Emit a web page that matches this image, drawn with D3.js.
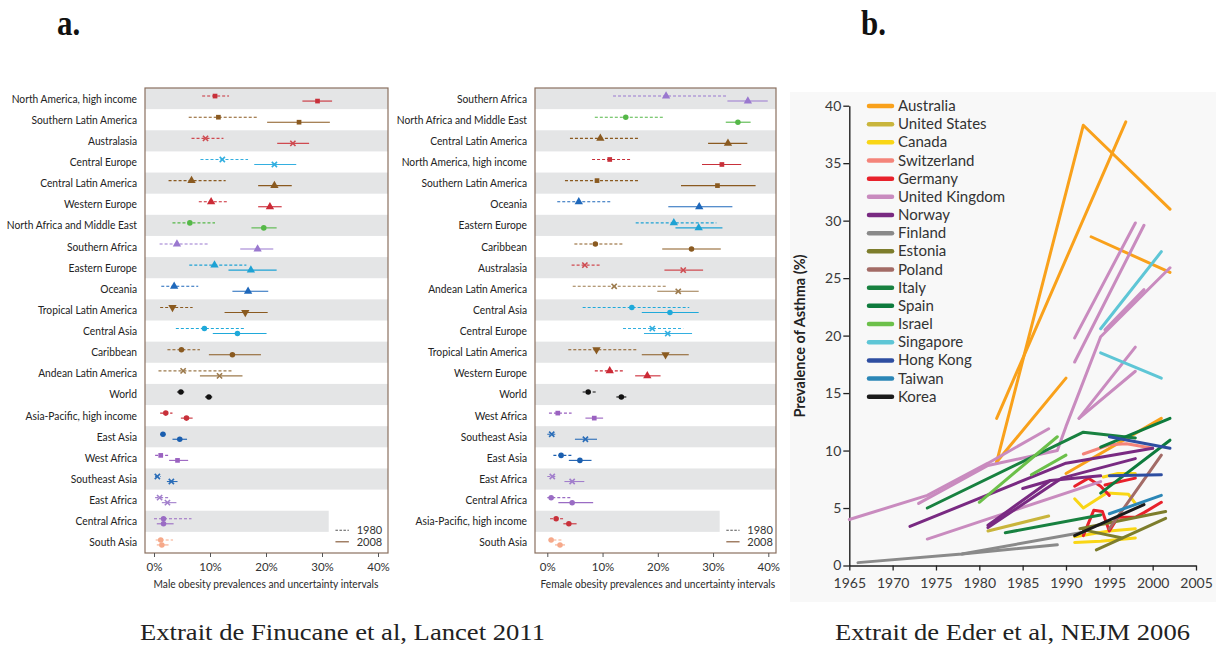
<!DOCTYPE html>
<html><head><meta charset="utf-8">
<script src="https://cdn.jsdelivr.net/npm/d3@7"></script>
<style>
body{margin:0;background:#fff;}
svg{display:block;}
</style></head><body>
<svg id="c" width="1216" height="646"></svg>
<script>
// ================= Panel a data (obesity, %) =================
const maleRegions = ["North America, high income","Southern Latin America","Australasia","Central Europe","Central Latin America","Western Europe","North Africa and Middle East","Southern Africa","Eastern Europe","Oceania","Tropical Latin America","Central Asia","Caribbean","Andean Latin America","World","Asia-Pacific, high income","East Asia","West Africa","Southeast Asia","East Africa","Central Africa","South Asia"];
const male1980   = [10.9,11.5,9.2,12.2,6.7,10.2,6.4,4.1,10.8,3.6,3.3,9.0,4.9,5.2,4.8,2.1,1.6,1.2,0.6,1.0,1.7,1.2];
const male1980Lo = [8.6,6.2,6.7,8.3,2.6,8.0,3.3,1.0,6.3,1.3,1.1,3.9,2.4,0.8,4.1,1.1,1.1,0.2,0.2,0.2,0.0,0.3];
const male1980Hi = [13.4,18.4,12.4,16.8,12.8,13.0,10.9,9.6,16.5,7.9,6.9,16.3,8.2,14.0,5.4,3.3,2.1,2.7,1.2,2.6,6.7,3.4];
const male2008   = [29.2,25.9,24.8,21.5,21.5,20.7,19.6,18.5,17.3,16.8,16.3,14.9,14.0,11.7,9.8,5.8,4.6,4.2,3.1,2.4,1.7,1.4];
const male2008Lo = [26.5,20.2,22.0,17.9,18.6,18.6,17.4,15.4,13.3,14.0,12.6,10.5,9.8,8.2,9.1,4.8,3.3,2.7,2.3,1.4,0.5,0.5];
const male2008Hi = [31.8,31.4,27.7,25.4,24.6,22.8,21.9,21.3,21.9,20.4,20.3,20.1,19.1,15.8,10.4,6.9,5.9,6.1,4.2,4.0,3.5,2.6];

const femaleRegions = ["Southern Africa","North Africa and Middle East","Central Latin America","North America, high income","Southern Latin America","Oceania","Eastern Europe","Caribbean","Australasia","Andean Latin America","Central Asia","Central Europe","Tropical Latin America","Western Europe","World","West Africa","Southeast Asia","East Asia","East Africa","Central Africa","Asia-Pacific, high income","South Asia"];
const female1980   = [21.5,14.2,9.6,11.3,9.0,5.7,22.9,8.7,6.8,12.1,15.3,19.0,8.9,11.3,7.4,1.9,0.8,2.5,0.9,0.7,1.6,0.7];
const female1980Lo = [11.9,8.6,4.1,8.1,3.2,1.8,16.0,4.9,4.4,4.6,6.4,13.7,3.8,8.6,6.4,0.3,0.0,1.1,0.0,0.0,0.5,0.2];
const female1980Hi = [32.4,21.0,16.6,15.0,16.6,11.5,30.6,13.6,9.7,21.6,25.7,24.6,16.3,13.9,8.9,4.4,1.8,4.4,1.8,4.4,2.9,2.9];
const female2008   = [36.3,34.5,32.7,31.6,30.8,27.5,27.4,26.1,24.6,23.7,22.2,21.8,21.4,18.1,13.4,8.5,6.9,5.9,4.5,4.5,3.9,2.3];
const female2008Lo = [32.6,32.3,29.1,28.0,24.2,21.9,23.2,20.8,21.2,19.9,17.1,17.5,17.1,15.9,12.5,6.9,5.0,3.9,3.1,2.0,2.9,1.4];
const female2008Hi = [39.9,36.8,36.2,35.1,37.7,33.5,31.7,31.4,28.2,27.4,27.4,26.2,25.6,20.5,14.3,10.1,9.0,8.0,6.7,8.3,5.3,3.2];

const pctTicks = [0,10,20,30,40];
const surveyYears = ["1980","2008"];

// region styles
const regionColor = {
  "North America, high income":"#c8303a","Australasia":"#cf4a50","Western Europe":"#cc2a36","Asia-Pacific, high income":"#c8303a",
  "Southern Latin America":"#8a5a20","Central Latin America":"#8a5a20","Tropical Latin America":"#8a5a20","Caribbean":"#8a5a20","Andean Latin America":"#9c7a4c",
  "Central Europe":"#33afe0","Eastern Europe":"#1ea2d4","Central Asia":"#1fa9da",
  "North Africa and Middle East":"#55b848",
  "Southern Africa":"#9a78cf","West Africa":"#9a62c0","East Africa":"#a27fcc","Central Africa":"#9a6cc4",
  "Oceania":"#1f68bb","East Asia":"#1a5eaf","Southeast Asia":"#2a6db8",
  "South Asia":"#f6a98a","World":"#111111"
};
const regionShape = {
  "North America, high income":"square","Australasia":"x","Western Europe":"tri","Asia-Pacific, high income":"circle",
  "Southern Latin America":"square","Central Latin America":"tri","Tropical Latin America":"triDown","Caribbean":"circle","Andean Latin America":"x",
  "Central Europe":"x","Eastern Europe":"tri","Central Asia":"circle","North Africa and Middle East":"circle",
  "Southern Africa":"tri","West Africa":"square","East Africa":"x","Central Africa":"circle",
  "Oceania":"tri","East Asia":"circle","Southeast Asia":"x","South Asia":"circle","World":"circle"
};

// ================= Panel b data (asthma prevalence, %) =================
const asthmaCountries = ["Australia","United States","Canada","Switzerland","Germany","United Kingdom","Norway","Finland","Estonia","Poland","Italy","Spain","Israel","Singapore","Hong Kong","Taiwan","Korea"];
const australiaSeries = [[[1982,9.0],[1992,38.3],[2002,31.0]],[[1982,12.8],[1996.9,38.6]],[[1982,9.0],[1990,16.3]],[[1990,8.0],[2001,12.8]],[[1992.9,28.6],[2002,25.5]]];
const usSeries = [[[1981,3.0],[1988,4.3]]];
const canadaSeries = [[[1991,5.8],[1992,5.0],[1994.7,6.3],[1997.2,6.2],[1998,5.4]],[[1994.3,7.7],[1996,8.0],[1998,8.0]],[[1991,2.5],[1995,3.0],[1998,3.2]],[[1991,2.0],[1994,2.1],[1998,2.4]]];
const switzerlandSeries = [[[1992,9.7],[1995,10.5],[1997,10.6],[2000,10.2]]];
const germanySeries = [[[1991,6.9],[1992.6,7.6],[1994,6.9],[1995,6.1]],[[1994.5,7.0],[1998,7.6]],[[1992,2.6],[1993.2,4.8],[1994.2,4.7],[1995,3.0],[1996,4.2],[1998,4.2],[1999,4.6],[2001,5.5]]];
const ukSeries = [[[1965,4.0],[1974,6.1],[1981,8.9],[1988,11.9]],[[1973,5.4],[1981,8.7],[1989,10.0],[1990,12.1],[1994,19.9],[2002,25.9]],[[1974,2.3],[1994,7.3]],[[1991,19.8],[1998,29.8]],[[1991,17.7],[1999,29.6]],[[1994.5,20.5],[1999,24.0]],[[1991.5,12.8],[1998,19.0]],[[1991.5,12.8],[1998,16.9]]];
const norwaySeries = [[[1972,3.4],[1990,8.9],[2000,10.2]],[[1981,3.3],[1989.5,7.6],[1998,9.3]],[[1985,6.7],[1988.2,7.4]],[[1981,3.5],[1988.2,7.4],[1994,7.8]]];
const finlandSeries = [[[1966,0.25],[1978,1.0],[1992,2.9]],[[1978,1.0],[1989,1.8]]];
const estoniaSeries = [[[1993.5,1.35],[2001.5,4.1]],[[1991.6,3.2],[2001.5,4.7]],[[1992,3.1],[1996.5,2.4]]];
const polandSeries = [[[1995,3.2],[2001,9.6]]];
const italySeries = [[[1974,5.0],[1992,11.6],[1998,11.1]],[[1983,2.85],[1994,4.4]]];
const spainSeries = [[[1994,10.3],[2002,12.8]],[[1994,6.3],[2002,10.9]]];
const israelSeries = [[[1980,5.5],[1989,11.2]],[[1986,7.9],[1990,9.6]]];
const singaporeSeries = [[[1994,20.6],[2001,27.3]],[[1994,18.5],[2001,16.3]]];
const hongKongSeries = [[[1995,11.2],[2002,10.2]],[[1995,7.8],[2001,7.9]]];
const taiwanSeries = [[[1995,4.5],[2001,6.1]]];
const koreaSeries = [[[1991,2.6],[1999,5.3]]];
const yearTicks = [1965,1970,1975,1980,1985,1990,1995,2000,2005];
const prevTicks = [0,5,10,15,20,25,30,35,40];

const countryColor = ["#f9a11b","#c9b53c","#f9d616","#f4847a","#e8212b","#c98bbf","#792a82","#8a8a8a","#7d7d2c","#a36b66","#188140","#0e7b3d","#6cc04a","#5ec6d6","#2e4ea1","#2b86b6","#1b1b1b"];
const countrySeries = [australiaSeries,usSeries,canadaSeries,switzerlandSeries,germanySeries,ukSeries,norwaySeries,finlandSeries,estoniaSeries,polandSeries,italySeries,spainSeries,israelSeries,singaporeSeries,hongKongSeries,taiwanSeries,koreaSeries];

// ================= drawing =================
const svg = d3.select("#c");
svg.append("rect").attr("width",1216).attr("height",646).attr("fill","#fff");

const labelFont = "'Lato',sans-serif";

function drawForest(cfg){
  const {regions,v80,lo80,hi80,v08,lo08,hi08,boxL,boxR,x0,x40,label,labelX} = cfg;
  const top = 88, bottom = 553;
  const x = d3.scaleLinear().domain([0,40]).range([x0,x40]);
  const y = d3.scaleBand().domain(d3.range(regions.length)).range([top,bottom]).padding(0);
  const g = svg.append("g");
  g.selectAll("rect.band").data(d3.range(regions.length).filter(i=>i%2===0)).join("rect")
    .attr("x",boxL).attr("y",i=>y(i)).attr("height",y.bandwidth())
    .attr("width",i=> i===20 ? x(31.2)-boxL : boxR-boxL)
    .attr("fill","#e4e5e6");
  g.append("rect").attr("x",boxL).attr("y",top).attr("width",boxR-boxL).attr("height",bottom-top)
    .attr("fill","none").attr("stroke","#8a7060").attr("stroke-width",1.2);
  const ax = g.append("g").attr("transform",`translate(0,${bottom})`)
    .call(d3.axisBottom(x).tickValues(pctTicks).tickFormat(d=>d+"%").tickSize(4).tickSizeOuter(0));
  ax.select(".domain").remove();
  ax.selectAll("line").attr("stroke","#555");
  ax.selectAll("text").attr("font-family",labelFont).attr("font-size",11.5).attr("fill","#333").attr("dy","0.95em");
  g.selectAll("text.lab").data(regions).join("text")
    .attr("transform",(d,i)=>`translate(${labelX},${y(i)+y.bandwidth()/2+4}) scale(0.87,1)`)
    .attr("text-anchor","end").attr("font-family",labelFont).attr("font-size",11.8).attr("fill","#222").text(d=>d);
  g.append("text").attr("transform",`translate(${(x0+x40)/2},588) scale(0.91,1)`).attr("text-anchor","middle")
    .attr("font-family",labelFont).attr("font-size",11.2).attr("fill","#2a2a2a").text(label);
  const sets = [{v:v80,lo:lo80,hi:hi80,off:-2.5,dash:"3,2"},{v:v08,lo:lo08,hi:hi08,off:2.5,dash:null}];
  sets.forEach(s=>{
    regions.forEach((r,i)=>{
      const cy = y(i)+y.bandwidth()/2+s.off;
      const col = regionColor[r];
      g.append("line").attr("x1",x(s.lo[i])).attr("x2",x(s.hi[i])).attr("y1",cy).attr("y2",cy)
        .attr("stroke",col).attr("stroke-width",1.1).attr("stroke-dasharray",s.dash);
      drawMarker(g,regionShape[r],x(s.v[i]),cy,col);
    });
  });
  const ly1 = y(20)+y.bandwidth()/2+9, ly2 = ly1+11.5;
  g.append("line").attr("x1",x(32.4)).attr("x2",x(34.8)).attr("y1",ly1).attr("y2",ly1).attr("stroke","#555").attr("stroke-width",1.1).attr("stroke-dasharray","2.5,1.5");
  g.append("line").attr("x1",x(32.4)).attr("x2",x(34.8)).attr("y1",ly2).attr("y2",ly2).attr("stroke","#8a6040").attr("stroke-width",1.2);
  g.append("text").attr("x",x(36.2)).attr("y",ly1+4).attr("font-family",labelFont).attr("font-size",11).attr("fill","#333").text(surveyYears[0]);
  g.append("text").attr("x",x(36.2)).attr("y",ly2+4).attr("font-family",labelFont).attr("font-size",11).attr("fill","#333").text(surveyYears[1]);
}

function drawMarker(g,shape,cx,cy,col){
  if(shape==="x"){
    const s=2.6;
    g.append("path").attr("d",`M${cx-s},${cy-s}L${cx+s},${cy+s}M${cx-s},${cy+s}L${cx+s},${cy-s}`)
      .attr("stroke",col).attr("stroke-width",1.6).attr("fill","none");
    return;
  }
  let type = d3.symbolCircle, size = 24, rot = 0;
  if(shape==="square"){type=d3.symbolSquare; size=22;}
  if(shape==="tri"){type=d3.symbolTriangle; size=30;}
  if(shape==="triDown"){type=d3.symbolTriangle; size=30; rot=180;}
  g.append("path").attr("d",d3.symbol().type(type).size(size)())
    .attr("transform",`translate(${cx},${cy}) rotate(${rot})`).attr("fill",col);
}

drawForest({regions:maleRegions,v80:male1980,lo80:male1980Lo,hi80:male1980Hi,v08:male2008,lo08:male2008Lo,hi08:male2008Hi,
  boxL:145,boxR:388,x0:154,x40:378,label:"Male obesity prevalences and uncertainty intervals",labelX:137});
drawForest({regions:femaleRegions,v80:female1980,lo80:female1980Lo,hi80:female1980Hi,v08:female2008,lo08:female2008Lo,hi08:female2008Hi,
  boxL:535,boxR:776,x0:547.3,x40:768.3,label:"Female obesity prevalences and uncertainty intervals",labelX:527});

// ---- Panel b ----
const gb = svg.append("g");
gb.append("rect").attr("x",790).attr("y",92).attr("width",426).attr("height",510).attr("fill","#f8f8f8");
const xb = d3.scaleLinear().domain([1965,2005]).range([849.3,1196]);
const yb = d3.scaleLinear().domain([0,40]).range([565.5,105.7]);
const bFont = "'Lato','Open Sans',sans-serif";
const axL = gb.append("g").attr("transform","translate(849.3,0)")
  .call(d3.axisLeft(yb).tickValues(prevTicks).tickSize(6).tickSizeOuter(0));
const axB = gb.append("g").attr("transform","translate(0,565.5)")
  .call(d3.axisBottom(xb).tickValues(yearTicks).tickFormat(d3.format("d")).tickSize(5).tickSizeOuter(0));
[axL,axB].forEach(a=>{
  a.select(".domain").attr("stroke","#222").attr("stroke-width",1.4);
  a.selectAll("line").attr("stroke","#222").attr("stroke-width",1.3);
  a.selectAll("text").attr("font-family",bFont).attr("font-size",14).attr("fill","#3a3a3a");
});
axL.selectAll("text").attr("x",-8);
axB.selectAll("text").attr("dy","1.05em");
gb.append("text").attr("transform","translate(805,336) rotate(-90)").attr("text-anchor","middle")
  .attr("font-family",bFont).attr("font-weight","bold").attr("font-size",14.5).attr("fill","#222")
  .text("Prevalence of Asthma (%)");

const line = d3.line().x(d=>xb(d[0])).y(d=>yb(d[1]));
countrySeries.forEach((segs,ci)=>{
  segs.forEach(seg=>{
    gb.append("path").attr("d",line(seg)).attr("fill","none").attr("stroke",countryColor[ci])
      .attr("stroke-width",3).attr("stroke-linecap","round").attr("stroke-linejoin","round");
  });
});
asthmaCountries.forEach((c,i)=>{
  const ly = 106 + i*18.17;
  gb.append("line").attr("x1",869).attr("x2",892).attr("y1",ly).attr("y2",ly)
    .attr("stroke",countryColor[i]).attr("stroke-width",4.5).attr("stroke-linecap","round");
  gb.append("text").attr("x",898).attr("y",ly+5).attr("font-family",bFont).attr("font-size",15).attr("fill","#333").text(c);
});

// ---- titles & captions ----
svg.append("text").attr("transform","translate(57,35) scale(1.0,1.15)").attr("font-family","'Liberation Serif',serif")
  .attr("font-weight","bold").attr("font-size",31).attr("fill","#111").text("a.");
svg.append("text").attr("transform","translate(861,35) scale(1.0,1.15)").attr("font-family","'Liberation Serif',serif")
  .attr("font-weight","bold").attr("font-size",31).attr("fill","#111").text("b.");
svg.append("text").attr("x",140).attr("y",640).attr("textLength",405).attr("lengthAdjust","spacingAndGlyphs")
  .attr("font-family","'Liberation Serif',serif").attr("font-size",23).attr("fill","#222").text("Extrait de Finucane et al, Lancet 2011");
svg.append("text").attr("x",835).attr("y",640).attr("textLength",355).attr("lengthAdjust","spacingAndGlyphs")
  .attr("font-family","'Liberation Serif',serif").attr("font-size",23).attr("fill","#222").text("Extrait de Eder et al, NEJM 2006");
</script>
</body></html>
